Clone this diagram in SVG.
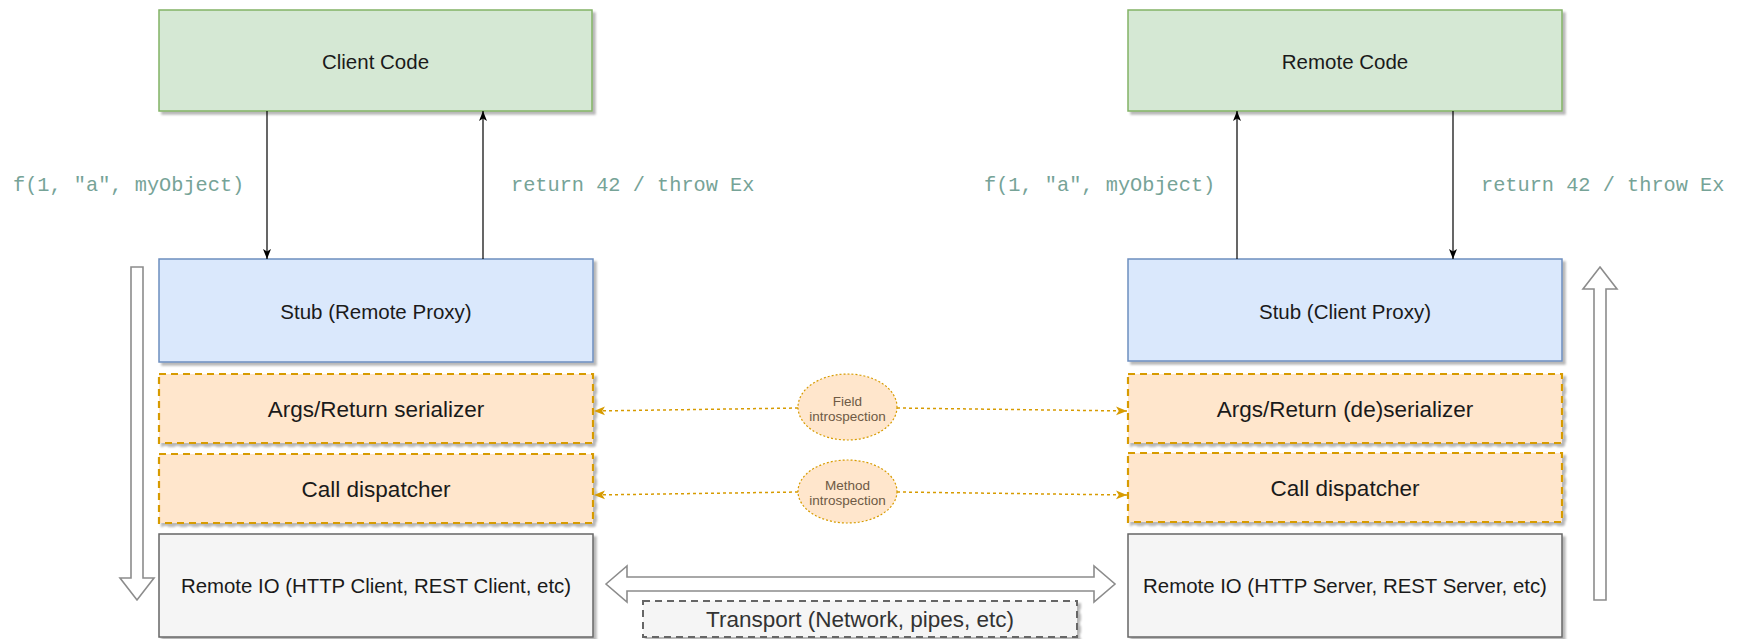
<svg xmlns="http://www.w3.org/2000/svg" width="1743" height="639" viewBox="0 0 1743 639">
<style>
.lbl{font-family:"Liberation Sans",Arial,sans-serif;fill:#1a1a1a;text-anchor:middle;dominant-baseline:central}
.code{font-family:"Liberation Mono","Courier New",monospace;font-size:20.3px;fill:#76a397;dominant-baseline:central}
.green{fill:#d5e8d4;stroke:#82b366;stroke-width:1.5}
.blue{fill:#dae8fc;stroke:#6c8ebf;stroke-width:1.5}
.orange{fill:#ffe6cc;stroke:#d79b00;stroke-width:2.2;stroke-dasharray:7 5}
.grey{fill:#f5f5f5;stroke:#666;stroke-width:1.5}
.trans{fill:#f5f5f5;stroke:#666;stroke-width:2;stroke-dasharray:7 5}
.ell{fill:#ffe6cc;stroke:#d79b00;stroke-width:1.2;stroke-dasharray:2 2}
.elltxt{font-family:"Liberation Sans",Arial,sans-serif;font-size:13.5px;fill:#6e5a45;text-anchor:middle;dominant-baseline:central}
.hollow{fill:#fff;stroke:#8c8c8c;stroke-width:1.6}
.conn{stroke:#000;stroke-width:1.2;fill:none}
.dot{stroke:#d79b00;stroke-width:1.5;stroke-dasharray:3 3;fill:none}
</style>
<defs>
<filter id="sh" x="-5%" y="-5%" width="115%" height="125%">
<feDropShadow dx="3" dy="3" stdDeviation="1.2" flood-color="#000" flood-opacity="0.28"/>
</filter>
<marker id="ab" viewBox="0 0 10 10" refX="10" refY="5" markerWidth="10" markerHeight="10" markerUnits="userSpaceOnUse" orient="auto">
<path d="M0,1 L10,5 L0,9 L2.5,5 Z" fill="#000"/>
</marker>
<marker id="ao" viewBox="0 0 10 10" refX="10" refY="5" markerWidth="11" markerHeight="11" markerUnits="userSpaceOnUse" orient="auto">
<path d="M0,1 L10,5 L0,9 L2.5,5 Z" fill="#d79b00"/>
</marker>
</defs>

<g id="client-code"><rect class="green" x="159" y="10" width="433" height="101" filter="url(#sh)"/><text class="lbl" x="375.5" y="61" font-size="20.5">Client Code</text></g>
<g id="remote-code"><rect class="green" x="1128" y="10" width="434" height="101" filter="url(#sh)"/><text class="lbl" x="1345" y="61" font-size="20.5">Remote Code</text></g>

<g id="stub-remote-proxy"><rect class="blue" x="159" y="259" width="434" height="103" filter="url(#sh)"/><text class="lbl" x="376" y="311" font-size="20.5">Stub (Remote Proxy)</text></g>
<g id="args-serializer"><rect class="orange" x="159" y="374" width="434" height="69" filter="url(#sh)"/><text class="lbl" x="376" y="409" font-size="22.5">Args/Return serializer</text></g>
<g id="call-dispatcher-left"><rect class="orange" x="159" y="454" width="434" height="69" filter="url(#sh)"/><text class="lbl" x="376" y="489" font-size="22.5">Call dispatcher</text></g>
<g id="remote-io-client"><rect class="grey" x="159" y="534" width="434" height="103" filter="url(#sh)"/><text class="lbl" x="376" y="586" font-size="20.4">Remote IO (HTTP Client, REST Client, etc)</text></g>

<g id="stub-client-proxy"><rect class="blue" x="1128" y="259" width="434" height="102" filter="url(#sh)"/><text class="lbl" x="1345" y="311" font-size="20.5">Stub (Client Proxy)</text></g>
<g id="args-deserializer"><rect class="orange" x="1128" y="374" width="434" height="69" filter="url(#sh)"/><text class="lbl" x="1345" y="409" font-size="22.5">Args/Return (de)serializer</text></g>
<g id="call-dispatcher-right"><rect class="orange" x="1128" y="453" width="434" height="69" filter="url(#sh)"/><text class="lbl" x="1345" y="488" font-size="22.5">Call dispatcher</text></g>
<g id="remote-io-server"><rect class="grey" x="1128" y="534" width="434" height="103" filter="url(#sh)"/><text class="lbl" x="1345" y="586" font-size="20.4">Remote IO (HTTP Server, REST Server, etc)</text></g>

<g id="field-introspection"><ellipse class="ell" cx="847.5" cy="407" rx="49.5" ry="33"/><text class="elltxt" x="847.5" y="401">Field</text><text class="elltxt" x="847.5" y="416.5">introspection</text></g>
<g id="method-introspection"><ellipse class="ell" cx="847.5" cy="491.5" rx="49.5" ry="31.5"/><text class="elltxt" x="847.5" y="485">Method</text><text class="elltxt" x="847.5" y="500.5">introspection</text></g>

<g id="transport"><rect class="trans" x="643" y="601" width="434" height="36" filter="url(#sh)"/><text class="lbl" x="860" y="619.5" font-size="22.5" style="fill:#333">Transport (Network, pipes, etc)</text></g>

<g id="flow-down-left"><polygon class="hollow" points="131,267 143,267 143,578 154,578 137,600 120,578 131,578"/></g>
<g id="flow-up-right"><polygon class="hollow" points="1600,267 1617,289 1606,289 1606,600 1594,600 1594,289 1583,289"/></g>
<g id="transport-arrow"><polygon class="hollow" points="606,584 627,566 627,577 1094,577 1094,566 1115,584 1094,602 1094,591 627,591 627,602"/></g>

<g id="connectors">
<line class="conn" x1="267" y1="111" x2="267" y2="259" marker-end="url(#ab)"/>
<line class="conn" x1="483" y1="259" x2="483" y2="111" marker-end="url(#ab)"/>
<line class="conn" x1="1237" y1="259" x2="1237" y2="111" marker-end="url(#ab)"/>
<line class="conn" x1="1453" y1="111" x2="1453" y2="259" marker-end="url(#ab)"/>
<line class="dot" x1="798" y1="408" x2="594" y2="411" marker-end="url(#ao)"/>
<line class="dot" x1="897" y1="408" x2="1127" y2="411" marker-end="url(#ao)"/>
<line class="dot" x1="798" y1="492" x2="594" y2="495" marker-end="url(#ao)"/>
<line class="dot" x1="897" y1="492" x2="1127" y2="495" marker-end="url(#ao)"/>
<text class="code" x="13" y="185.5">f(1, "a", myObject)</text>
<text class="code" x="511" y="185.5">return 42 / throw Ex</text>
<text class="code" x="984" y="185.5">f(1, "a", myObject)</text>
<text class="code" x="1481" y="185.5">return 42 / throw Ex</text>
</g>
</svg>
